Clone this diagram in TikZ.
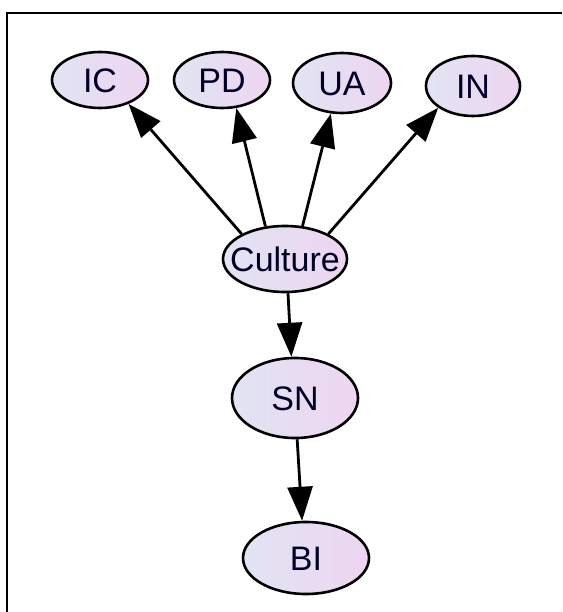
\documentclass[tikz,border=0pt]{standalone}
\usepackage{fontspec}
\setmainfont{Liberation Sans}
\usetikzlibrary{shapes.geometric,arrows.meta}
\definecolor{nodeleft}{HTML}{E1E4F3}
\definecolor{noderight}{HTML}{EED5F1}
\newcommand{\vtext}[1]{\makebox[0pt]{\raisebox{-0.36em}[0pt][0pt]{#1}}}
\tikzset{
  var/.style={ellipse, draw=black, line width=2.6pt, inner sep=0pt,
    left color=nodeleft, right color=noderight,
    font=\fontsize{34}{36}\selectfont, text=black!85!blue},
  edge/.style={line width=2.8pt, -{Triangle[length=34pt,width=25pt]}},
}
\begin{document}
\begin{tikzpicture}[x=1pt,y=-1pt]
\useasboundingbox (0,0) rectangle (562,612);
\draw[line width=2.6pt] (7,612) -- (7,13) -- (562,13);
\node[var, minimum width=96pt, minimum height=56pt] (ic) at (100,80) {\vtext{IC}};
\node[var, minimum width=96pt, minimum height=56pt] (pd) at (222,80) {\vtext{PD}};
\node[var, minimum width=98pt, minimum height=60pt] (ua) at (342,83) {\vtext{UA}};
\node[var, minimum width=94pt, minimum height=60pt] (in) at (473,86) {\vtext{IN}};
\node[var, minimum width=124pt, minimum height=66pt] (cu) at (285,259) {\vtext{Culture}};
\node[var, minimum width=126pt, minimum height=80pt] (sn) at (295,398) {\vtext{SN}};
\node[var, minimum width=126pt, minimum height=72pt] (bi) at (306,558) {\vtext{BI}};
\draw[edge] (cu.150) -- (ic.-40);
\draw[edge] (cu.121) -- (pd.-63);
\draw[edge] (cu.62) -- (ua.-110);
\draw[edge] (cu.30) -- (in.-148);
\draw[edge] (cu.-85) -- (sn.95);
\draw[edge] (sn.-87) -- (bi.96);
\end{tikzpicture}
\end{document}
